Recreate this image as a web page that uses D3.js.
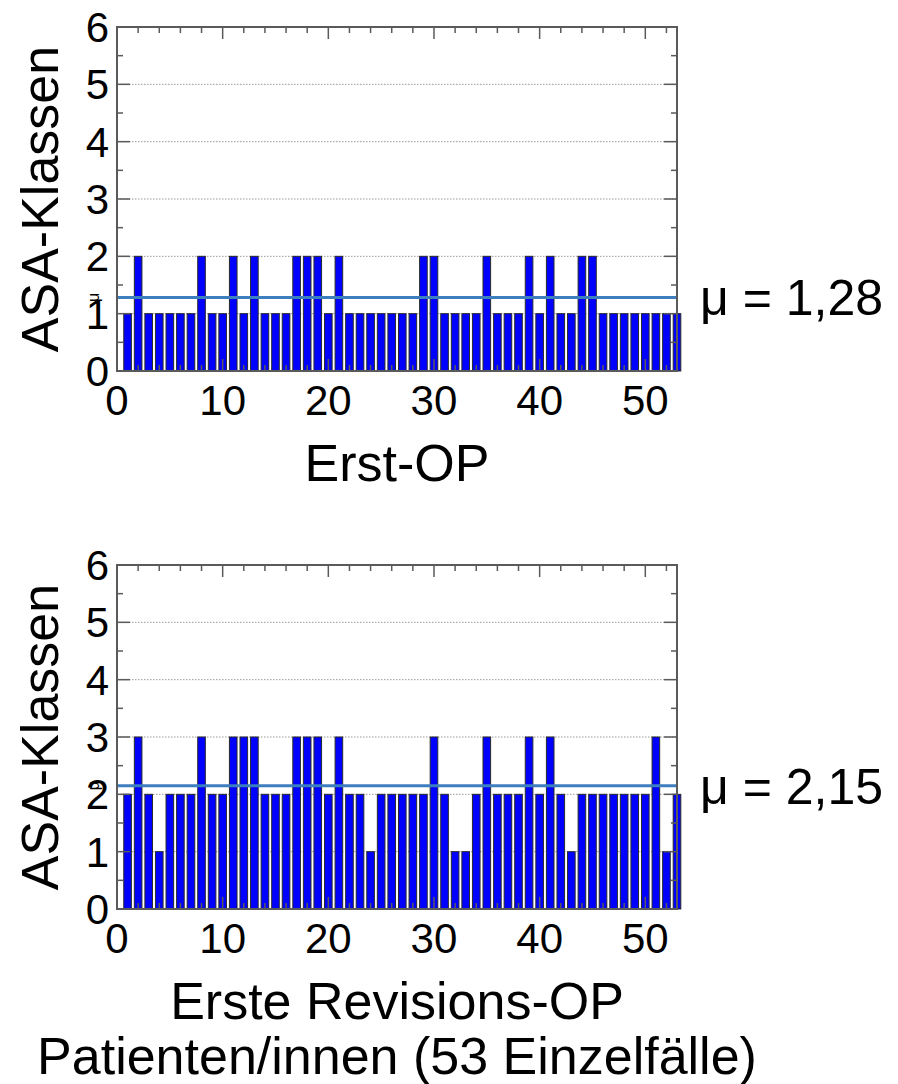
<!DOCTYPE html>
<html>
<head>
<meta charset="utf-8">
<script src="https://cdn.jsdelivr.net/npm/d3@7"></script>
<style>
  body { margin: 0; background: #fff; }
  text { font-family: "Liberation Sans", Arial, sans-serif; fill: #000; }
</style>
</head>
<body>
<div class="chart"></div>
<script>
var width = 898, height = 1084;

// Patienten 1..53
var patients = d3.range(1, 54);
// ASA-Klasse bei Erst-OP
var asaErstOp = [1,2,1,1,1,1,1,2,1,1, 2,1,2,1,1,1,2,2,2,1, 2,1,1,1,1,1,1,1,2,2,
                 1,1,1,1,2,1,1,1,2,1, 2,1,1,2,2,1,1,1,1,1, 1,1,1];
// ASA-Klasse bei erster Revisions-OP
var asaRevision = [2,3,2,1,2,2,2,3,2,2, 3,3,3,2,2,2,3,3,3,2, 3,2,2,1,2,2,2,2,2,3,
                   2,1,1,2,3,2,2,2,3,2, 3,2,1,2,2,2,2,2,2,2, 3,1,2];
var yTicks = [0, 1, 2, 3, 4, 5, 6];
var xTicks = [0, 10, 20, 30, 40, 50];
var meanLabels = ["μ = 1,28", "μ = 2,15"];
var xTitles = [["Erst-OP"], ["Erste Revisions-OP", "Patienten/innen (53 Einzelfälle)"]];

var svg = d3.select('.chart')
    .append('svg')
    .attr('width', width)
    .attr('height', height);

var x = d3.scaleLinear().domain([0, 53]).range([117, 677]);

function drawPanel(values, top, meanText, titles) {
    var y = d3.scaleLinear().domain([0, 6]).range([top + 344, top]);
    var g = svg.append('g');
    var mean = d3.mean(values);

    // dotted grid
    g.selectAll('line.grid')
        .data([1, 2, 3, 4, 5])
        .enter()
        .append('line')
        .attr('x1', x(0)).attr('x2', x(53))
        .attr('y1', d => y(d)).attr('y2', d => y(d))
        .attr('stroke', '#999')
        .attr('stroke-width', 1)
        .attr('stroke-dasharray', '1.5,1.5');

    // bars
    var bw = (x(1) - x(0)) * 0.72;
    g.selectAll('rect.bar')
        .data(values)
        .enter()
        .append('rect')
        .attr('x', (d, i) => x(patients[i]) - bw / 2)
        .attr('y', d => y(d))
        .attr('width', bw)
        .attr('height', d => y(0) - y(d))
        .attr('fill', '#0000ff')
        .attr('stroke', '#2a2a2a')
        .attr('stroke-width', 1);

    // mean line
    g.append('line')
        .attr('x1', x(0)).attr('x2', x(53))
        .attr('y1', y(mean)).attr('y2', y(mean))
        .attr('stroke', '#3d7ebf')
        .attr('stroke-width', 3);

    // frame + inward ticks
    var axisCol = '#5a5a5a';
    var xMinor = d3.range(2, 53, 2);
    var yMinor = d3.range(0.5, 6, 0.5);
    g.append('rect')
        .attr('x', x(0)).attr('y', y(6))
        .attr('width', x(53) - x(0)).attr('height', y(0) - y(6))
        .attr('fill', 'none').attr('stroke', axisCol).attr('stroke-width', 2);
    [y(0), y(6)].forEach(function (yy, k) {
        var dir = k === 0 ? -1 : 1;
        g.selectAll(null)
            .data(xMinor)
            .enter()
            .append('line')
            .attr('x1', d => x(d)).attr('x2', d => x(d))
            .attr('y1', yy)
            .attr('y2', d => yy + dir * (d % 10 === 0 ? 12 : 6))
            .attr('stroke', axisCol).attr('stroke-width', 1.5);
    });
    [x(0), x(53)].forEach(function (xx, k) {
        var dir = k === 0 ? 1 : -1;
        g.selectAll(null)
            .data(yMinor)
            .enter()
            .append('line')
            .attr('y1', d => y(d)).attr('y2', d => y(d))
            .attr('x1', xx)
            .attr('x2', d => xx + dir * (d % 1 === 0 ? 13 : 6))
            .attr('stroke', axisCol).attr('stroke-width', 1.5);
    });

    // tick labels
    g.selectAll('text.yt')
        .data(yTicks)
        .enter()
        .append('text')
        .attr('x', x(0) - 8)
        .attr('y', d => y(d))
        .attr('dy', '0.36em')
        .attr('text-anchor', 'end')
        .style('font-size', '42px')
        .text(d => d);
    g.selectAll('text.xt')
        .data(xTicks)
        .enter()
        .append('text')
        .attr('x', d => x(d))
        .attr('y', y(0) + 44)
        .attr('text-anchor', 'middle')
        .style('font-size', '42px')
        .text(d => d);

    // axis titles
    g.append('text')
        .attr('transform', 'translate(' + 58 + ',' + y(3) + ') rotate(-90)')
        .attr('text-anchor', 'middle')
        .style('font-size', '52px')
        .text('ASA-Klassen');
    g.selectAll('text.xtitle')
        .data(titles)
        .enter()
        .append('text')
        .attr('x', 397)
        .attr('y', (d, i) => y(0) + 110 + i * 55)
        .attr('text-anchor', 'middle')
        .style('font-size', '52px')
        .text(d => d);

    // small mu marker at left
    g.append('text')
        .attr('transform', 'translate(' + 99 + ',' + y(mean) + ') rotate(-90)')
        .attr('text-anchor', 'middle')
        .style('font-size', '16px')
        .text('μ');

    // mean label
    g.append('text')
        .attr('x', 700)
        .attr('y', y(mean))
        .attr('dy', '0.36em')
        .style('font-size', '50px')
        .text(meanText);
}

drawPanel(asaErstOp, 27, meanLabels[0], xTitles[0]);
drawPanel(asaRevision, 565, meanLabels[1], xTitles[1]);
</script>
</body>
</html>
